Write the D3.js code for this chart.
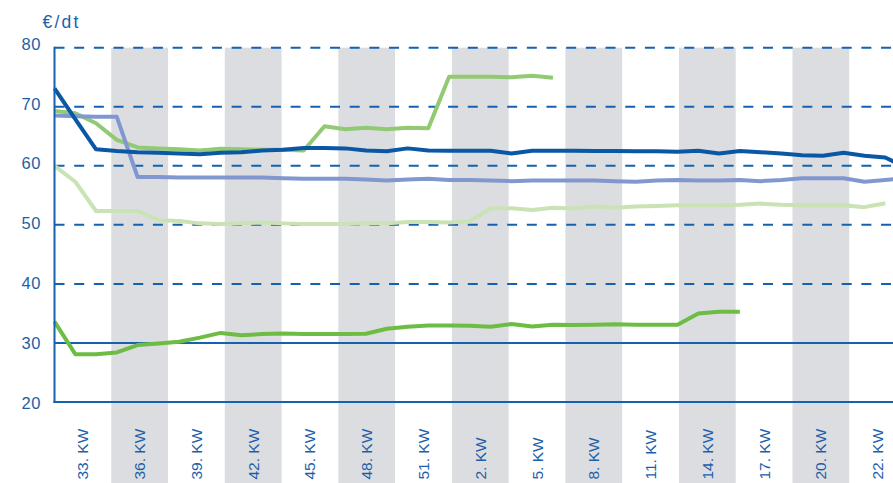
<!DOCTYPE html>
<html>
<head>
<meta charset="utf-8">
<script src="https://cdn.jsdelivr.net/npm/d3@7"></script>
<style>
  html, body { margin: 0; padding: 0; background: #fff; }
  svg { display: block; font-family: "Liberation Sans", Arial, sans-serif; }
</style>
</head>
<body>
<svg id="chart" width="893" height="483"></svg>
<script>
// Calendar weeks, one data point per week (week 33 through week 22 of the next year)
const weeks = [33, 34, 35, 36, 37, 38, 39, 40, 41, 42, 43, 44, 45, 46, 47, 48, 49, 50, 51, 52,
               1, 2, 3, 4, 5, 6, 7, 8, 9, 10, 11, 12, 13, 14, 15, 16, 17, 18, 19, 20, 21, 22];

// Axis category labels (one per three-week column)
const columnLabels = ["33. KW", "36. KW", "39. KW", "42. KW", "45. KW", "48. KW", "51. KW",
                      "2. KW", "5. KW", "8. KW", "11. KW", "14. KW", "17. KW", "20. KW", "22. KW"];

const yTicks = [20, 30, 40, 50, 60, 70, 80];
const dashedTicks = [40, 50, 60, 70, 80];
const solidTicks = [30];

// Price series in €/dt, weekly
const seriesDarkBlue = [73.1, 67.9, 62.8, 62.5, 62.3, 62.2, 62.1, 61.95, 62.2, 62.3,
  62.6, 62.7, 63.0, 63.0, 62.95, 62.6, 62.45, 62.95, 62.6, 62.55,
  62.55, 62.55, 62.1, 62.55, 62.55, 62.55, 62.5, 62.5, 62.45, 62.45,
  62.4, 62.55, 62.1, 62.5, 62.3, 62.1, 61.8, 61.7, 62.2, 61.7,
  61.4, 59.7];

const seriesLightBlue = [68.5, 68.4, 68.3, 68.3, 58.1, 58.1, 58.0, 58.0, 58.0, 58.0,
  58.0, 57.9, 57.8, 57.8, 57.8, 57.7, 57.5, 57.7, 57.8, 57.6,
  57.6, 57.5, 57.4, 57.5, 57.5, 57.5, 57.5, 57.4, 57.3, 57.5,
  57.6, 57.5, 57.5, 57.6, 57.4, 57.6, 57.9, 57.9, 57.9, 57.3,
  57.6, 57.9];

const seriesGreen = [69.3, 68.9, 67.2, 64.4, 63.1, 62.95, 62.8, 62.6, 62.9, 62.8,
  62.7, 62.7, 62.6, 66.7, 66.2, 66.45, 66.2, 66.45, 66.35, 75.1,
  75.1, 75.1, 75.0, 75.25, 74.9];

const seriesPaleGreen = [60.0, 57.3, 52.35, 52.35, 52.35, 50.8, 50.65, 50.25, 50.15, 50.25,
  50.4, 50.25, 50.15, 50.15, 50.15, 50.25, 50.25, 50.5, 50.5, 50.4,
  50.6, 52.8, 52.8, 52.5, 52.9, 52.75, 53.1, 52.9, 53.1, 53.2,
  53.3, 53.3, 53.3, 53.4, 53.6, 53.4, 53.3, 53.35, 53.3, 53.0,
  53.65];

const seriesBottomGreen = [33.6, 28.1, 28.1, 28.4, 29.65, 29.9, 30.2, 30.9, 31.7, 31.3,
  31.5, 31.6, 31.5, 31.5, 31.5, 31.55, 32.4, 32.75, 32.95, 32.95,
  32.9, 32.75, 33.2, 32.8, 33.1, 33.05, 33.1, 33.15, 33.1, 33.1,
  33.1, 35.0, 35.3, 35.3];

const BLUE = "#1461b0";
const TEXT_BLUE = "#1c5fa9";

const svg = d3.select("#chart");

const plotLeft = 54.5, plotRight = 906, plotTop = 47.7, plotBottom = 402;

const x = d3.scalePoint().domain(weeks).range([plotLeft, plotRight]);
const xBand = d3.scaleBand().domain(columnLabels).range([plotLeft, plotRight]).padding(0);
const y = d3.scaleLinear().domain([20, 80]).range([plotBottom, plotTop]);
const yLabel = d3.scaleLinear().domain([20, 80]).range([403.4, 43.8]);

// Shaded alternating columns
svg.append("g")
  .selectAll("rect")
  .data(columnLabels.filter((d, i) => i % 2 === 1))
  .join("rect")
  .attr("x", d => xBand(d))
  .attr("y", y(80))
  .attr("width", xBand.bandwidth())
  .attr("height", 483 - y(80))
  .attr("fill", "#dcdde0");

// Dashed gridlines
svg.append("g")
  .selectAll("line")
  .data(dashedTicks)
  .join("line")
  .attr("x1", plotLeft)
  .attr("x2", 893)
  .attr("y1", d => y(d))
  .attr("y2", d => y(d))
  .attr("stroke", BLUE)
  .attr("stroke-width", 2)
  .attr("stroke-dasharray", "10,9.68");

// Solid reference line
svg.append("g")
  .selectAll("line")
  .data(solidTicks)
  .join("line")
  .attr("x1", plotLeft)
  .attr("x2", 893)
  .attr("y1", d => y(d))
  .attr("y2", d => y(d))
  .attr("stroke", BLUE)
  .attr("stroke-width", 2);

// Price lines
const line = d3.line()
  .x((d, i) => x(weeks[i]))
  .y(d => y(d));

const series = [
  { values: seriesPaleGreen, color: "#c9e3b5" },
  { values: seriesBottomGreen, color: "#6dbd45" },
  { values: seriesGreen, color: "#92c973" },
  { values: seriesLightBlue, color: "#8098cf" },
  { values: seriesDarkBlue, color: "#0a57a5" }
];

svg.append("g")
  .selectAll("path")
  .data(series)
  .join("path")
  .attr("d", d => line(d.values))
  .attr("fill", "none")
  .attr("stroke", d => d.color)
  .attr("stroke-width", 4)
  .attr("stroke-linejoin", "round");

// Axes frame
svg.append("line")
  .attr("x1", plotLeft).attr("x2", plotLeft)
  .attr("y1", y(80) - 1).attr("y2", plotBottom + 1)
  .attr("stroke", BLUE).attr("stroke-width", 2);
svg.append("line")
  .attr("x1", plotLeft - 1).attr("x2", 893)
  .attr("y1", plotBottom).attr("y2", plotBottom)
  .attr("stroke", BLUE).attr("stroke-width", 2);

// Y tick labels
svg.append("g")
  .selectAll("text")
  .data(yTicks)
  .join("text")
  .attr("x", 41)
  .attr("y", d => yLabel(d) + 5.8)
  .attr("text-anchor", "end")
  .attr("font-size", 16.5)
  .attr("letter-spacing", 0.6)
  .attr("fill", TEXT_BLUE)
  .text(d => d);

// Unit label
svg.append("text")
  .attr("x", 42.5)
  .attr("y", 28)
  .attr("font-size", 17.5)
  .attr("letter-spacing", 2.2)
  .attr("fill", TEXT_BLUE)
  .text("€/dt");

// X category labels, rotated
svg.append("g")
  .selectAll("text")
  .data(columnLabels)
  .join("text")
  .attr("transform", d => `translate(${xBand(d) + xBand.bandwidth() / 2 + 5.5},479.5) rotate(-90)`)
  .attr("text-anchor", "start")
  .attr("font-size", 15.5)
  .attr("fill", TEXT_BLUE)
  .text(d => d);
</script>
</body>
</html>
